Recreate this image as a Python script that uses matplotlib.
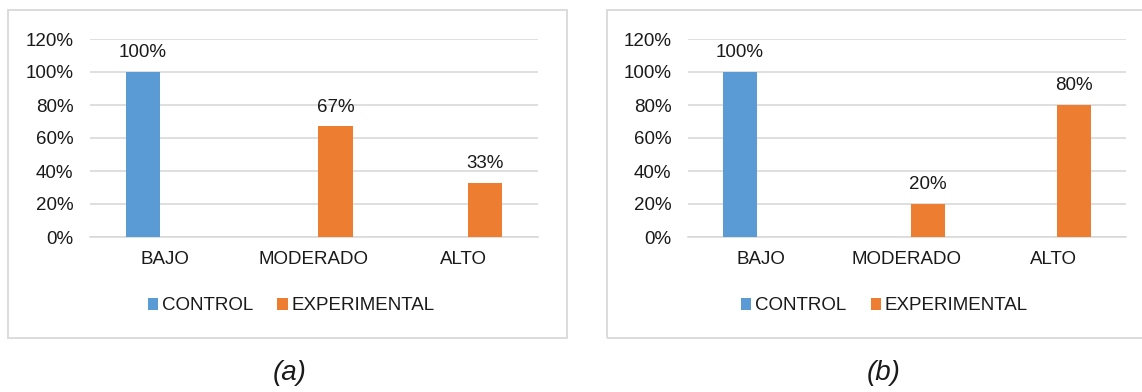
import numpy as np
import matplotlib
matplotlib.use("Agg")
import matplotlib.pyplot as plt
from matplotlib.patches import Rectangle
from matplotlib.ticker import PercentFormatter

plt.rcParams['font.family'] = ['Liberation Sans', 'DejaVu Sans']

# data
categorias = ['BAJO', 'MODERADO', 'ALTO']
series = ['CONTROL', 'EXPERIMENTAL']
control_a = [1.00, 0.0, 0.0]
experimental_a = [0.0, 0.67, 0.33]
control_b = [1.00, 0.0, 0.0]
experimental_b = [0.0, 0.20, 0.80]
yticks = [0, 0.2, 0.4, 0.6, 0.8, 1.0, 1.2]
captions = ['(a)', '(b)']

azul = '#5B9BD5'
naranja = '#ED7D31'
gris = '#D9D9D9'
texto = '#1a1a1a'

W, H = 1142, 392
fig = plt.figure(figsize=(W / 100, H / 100), dpi=100)

def fx(px):
    return px / W

def fy(py):
    return 1 - py / H

# chart area boxes
for x0, x1 in [(8, 567), (607, 1170)]:
    fig.patches.append(Rectangle((fx(x0), fy(338)), fx(x1 - x0), (338 - 10) / H,
                                 transform=fig.transFigure, fill=False,
                                 edgecolor=gris, linewidth=1.3))

paneles = [
    (90, 538, control_a, experimental_a, 291, 290),
    (688, 1126, control_b, experimental_b, 884.5, 884),
]

x = np.arange(len(categorias))
w = 0.23
off = 0.145
fs = 13.5

for i, (l, r, ctrl, expe, legx, capx) in enumerate(paneles):
    ax = fig.add_axes([fx(l), fy(237), fx(r - l), (237 - 39) / H])
    ctrl = np.array(ctrl)
    expe = np.array(expe)
    b1 = ax.bar(x - off, ctrl, w, color=azul, label=series[0], zorder=3)
    b2 = ax.bar(x + off, expe, w, color=naranja, label=series[1], zorder=3)
    for bars, vals in [(b1, ctrl), (b2, expe)]:
        for b, v in zip(bars, vals):
            if v > 0:
                ax.text(b.get_x() + b.get_width() / 2, v + 0.065, f'{v:.0%}',
                        ha='center', va='bottom', fontsize=fs, color=texto)
    ax.set_xlim(-0.5, 2.5)
    ax.set_ylim(0, 1.2)
    ax.set_yticks(yticks)
    ax.yaxis.set_major_formatter(PercentFormatter(1.0, decimals=0))
    ax.set_xticks(x)
    ax.set_xticklabels(categorias)
    ax.grid(axis='y', color=gris, linewidth=1.2, zorder=0)
    for s in ['top', 'right', 'left']:
        ax.spines[s].set_visible(False)
    ax.spines['bottom'].set_color(gris)
    ax.spines['bottom'].set_linewidth(1.2)
    ax.tick_params(axis='both', length=0, labelsize=fs, colors=texto)
    ax.tick_params(axis='y', pad=12)
    ax.tick_params(axis='x', pad=10)
    fig.legend(handles=[b1, b2], labels=series, loc='center',
               bbox_to_anchor=(fx(legx), fy(306)), ncol=2, frameon=False,
               fontsize=fs, handlelength=0.55, handleheight=0.55,
               handletextpad=0.2, columnspacing=1.3, labelcolor=texto)
    fig.text(fx(capx), fy(373), captions[i], ha='center', va='center',
             fontsize=20, style='italic', color=texto)

fig.savefig('out.png', dpi=100)
